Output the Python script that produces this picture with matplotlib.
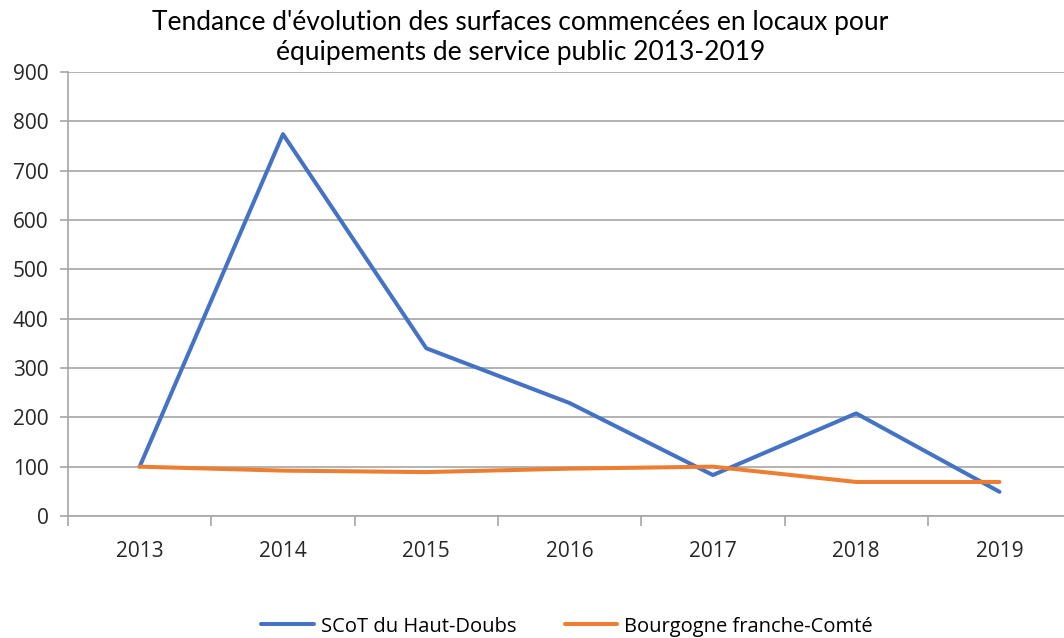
import matplotlib.pyplot as plt

# data
years = ["2013", "2014", "2015", "2016", "2017", "2018", "2019"]
scot_haut_doubs = [100, 774, 340, 229, 83, 208, 49]
bourgogne_fc = [100, 92, 89, 96, 100, 69, 69]

fig = plt.figure(figsize=(10.64, 6.38), dpi=100)
ax = fig.add_axes([68 / 1064, 122 / 638, 996 / 1064, 444 / 638])

x = range(len(years))
ax.plot(x, scot_haut_doubs, color="#4472C4", lw=2.9, label="SCoT du Haut-Doubs", solid_capstyle="round")
ax.plot(x, bourgogne_fc, color="#ED7D31", lw=2.9, label="Bourgogne franche-Comté", solid_capstyle="round")

ax.set_ylim(0, 900)
ax.set_yticks(range(0, 901, 100))
ax.set_xlim(-0.5, 6.45)
ax.set_xticks([i - 0.5 for i in range(len(years))], minor=False)
ax.set_xticklabels([])
ax.set_xticks(list(x), minor=True)
ax.set_xticklabels(years, minor=True)
ax.tick_params(axis="x", which="major", length=7, color="#A6A6A6", width=1.2)
ax.tick_params(axis="x", which="minor", length=0, pad=18, labelsize=15, labelcolor="#262626")
ax.tick_params(axis="y", length=6, color="#A6A6A6", width=1.2, labelsize=15, labelcolor="#262626", pad=8)
for lab in ax.get_xticklabels(minor=True) + ax.get_yticklabels():
    lab.set_fontfamily("Open Sans")

ax.grid(axis="y", color="#A6A6A6", lw=1.2)
ax.set_axisbelow(True)
for s in ["top", "right"]:
    ax.spines[s].set_visible(False)
ax.spines["left"].set_color("#A6A6A6")
ax.spines["bottom"].set_color("#A6A6A6")
ax.spines["left"].set_linewidth(1.2)
ax.spines["bottom"].set_linewidth(1.2)

fig.text(0.489, 0.985, "Tendance d'évolution des surfaces commencées en locaux pour\néquipements de service public 2013-2019",
         ha="center", va="top", fontsize=19, linespacing=1.25,
         family=["Lato", "DejaVu Sans"], color="black")

fig.legend(loc="center", bbox_to_anchor=(0.533, 0.018), ncol=2, frameon=False,
           prop={"family": "Open Sans", "size": 14.5}, handlelength=2.6, handletextpad=0.35,
           columnspacing=2.4)

fig.savefig("out.png", dpi=100)
